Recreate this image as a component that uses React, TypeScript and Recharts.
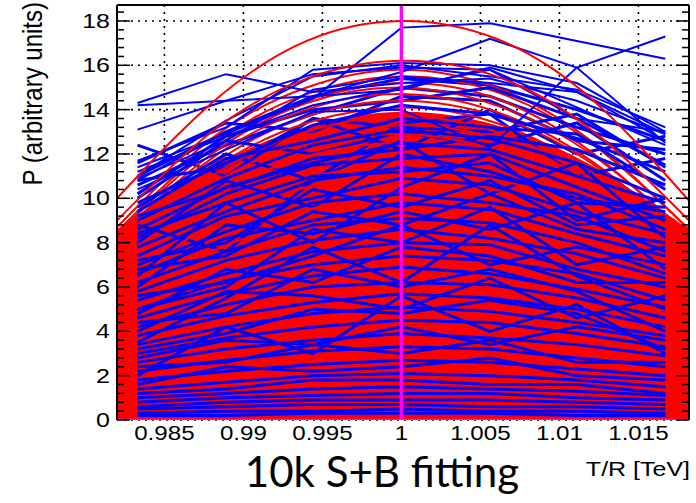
import React from "react";
import { ComposedChart, Line, Area, XAxis, YAxis, CartesianGrid } from "recharts";

const W = 696;
const H = 503;
const PLOT_L = 117;
const PLOT_R = 689;
const PLOT_T = 5;
const PLOT_B = 420;
const X_MIN = 0.982;
const X_MAX = 1.0182;
const Y_MAX = 18.72;

const FONT = '"Liberation Sans", Arial, Helvetica, sans-serif';

const X_TICKS = [0.985, 0.99, 0.995, 1, 1.005, 1.01, 1.015];
const Y_TICKS = [0, 2, 4, 6, 8, 10, 12, 14, 16, 18];
const X_MINOR = Array.from({ length: 37 }, (_, i) => Math.round((0.982 + i * 0.001) * 1000) / 1000);
const Y_MINOR = Array.from({ length: 47 }, (_, i) => Math.round(i * 4) / 10);

// T/R points of each toy scan (blue graphs)
const SCAN_X = [0.9833, 0.9889, 0.9944, 1.0, 1.0056, 1.0111, 1.0167];
// where the fitted curves are sampled (red)
const FIT_X = [0.982, 0.988, 0.994, 1.0, 1.006, 1.012, 1.0182];

// solid part of the red bundle
const FIT_BAND = [8.6, 11.4, 13.2, 13.9, 13.3, 11.5, 8.6];

const TOP_FITS = [
  [10.0, 14.3, 17.1, 18.0, 17.2, 14.5, 9.9],
  [9.0, 13.0, 15.4, 16.2, 15.5, 13.1, 9.0],
];

const FITS = [
  [8.7, 12.7, 15.0, 15.8, 15.0, 12.6, 8.6],
  [8.5, 12.4, 14.7, 15.5, 14.8, 12.5, 8.6],
  [8.4, 12.2, 14.4, 15.2, 14.5, 12.1, 8.3],
  [8.2, 12.0, 14.3, 15.0, 14.2, 12.0, 8.3],
  [8.1, 11.8, 14.0, 14.7, 13.9, 11.7, 8.0],
  [7.9, 11.5, 13.7, 14.4, 13.7, 11.6, 8.0],
  [7.8, 11.3, 13.4, 14.1, 13.4, 11.2, 7.7],
  [7.5, 11.0, 13.0, 13.7, 13.0, 10.9, 7.6],
  [7.3, 10.6, 12.6, 13.3, 12.7, 10.7, 7.3],
  [7.1, 10.3, 12.3, 12.9, 12.2, 10.3, 7.1],
  [6.9, 10.0, 11.9, 12.5, 11.9, 10.0, 6.9],
  [6.6, 9.6, 11.4, 12.0, 11.4, 9.6, 6.6],
  [6.3, 9.2, 10.9, 11.5, 10.9, 9.2, 6.3],
  [6.1, 8.8, 10.5, 11.0, 10.4, 8.8, 6.0],
  [5.8, 8.4, 10.0, 10.5, 10.0, 8.4, 5.8],
  [5.5, 8.0, 9.5, 10.0, 9.5, 8.0, 5.5],
  [5.2, 7.6, 9.0, 9.5, 9.0, 7.6, 5.2],
  [5.0, 7.2, 8.6, 9.0, 8.5, 7.2, 4.9],
  [4.7, 6.8, 8.1, 8.5, 8.1, 6.8, 4.7],
  [4.4, 6.4, 7.6, 8.0, 7.6, 6.4, 4.4],
  [4.1, 6.0, 7.1, 7.5, 7.1, 6.0, 4.1],
  [3.9, 5.6, 6.7, 7.0, 6.6, 5.6, 3.8],
  [3.5, 5.1, 6.1, 6.4, 6.1, 5.1, 3.5],
  [3.2, 4.6, 5.5, 5.8, 5.5, 4.6, 3.2],
  [2.9, 4.2, 4.9, 5.2, 4.9, 4.2, 2.9],
  [2.5, 3.7, 4.4, 4.6, 4.4, 3.7, 2.5],
  [2.2, 3.2, 3.8, 4.0, 3.8, 3.2, 2.2],
  [1.9, 2.7, 3.2, 3.4, 3.2, 2.7, 1.9],
  [1.5, 2.2, 2.7, 2.8, 2.7, 2.2, 1.5],
  [1.2, 1.8, 2.1, 2.2, 2.1, 1.8, 1.2],
  [0.9, 1.3, 1.5, 1.6, 1.5, 1.3, 0.9],
  [0.6, 0.8, 0.95, 1.0, 0.95, 0.8, 0.6],
];

const SCANS = [
  [11.0, 13.0, 14.6, 15.4, 15.1, 14.0, 12.6],
  [12.4, 11.0, 13.6, 12.2, 14.0, 12.0, 12.8],
  [10.6, 12.4, 13.8, 15.0, 14.6, 13.2, 12.0],
  [11.6, 13.4, 13.0, 14.6, 14.4, 12.6, 12.2],
  [10.2, 12.8, 14.0, 14.4, 15.0, 13.6, 11.5],
  [10.8, 11.4, 13.6, 13.2, 13.0, 13.8, 11.4],
  [9.6, 12.0, 10.8, 13.4, 13.8, 11.0, 11.8],
  [10.0, 12.6, 12.0, 13.0, 12.4, 13.4, 10.8],
  [9.8, 11.6, 13.3, 14.2, 13.8, 12.7, 11.2],
  [9.2, 10.4, 11.8, 12.2, 12.8, 12.2, 10.6],
  [9.4, 11.8, 12.6, 13.6, 13.2, 12.9, 10.4],
  [9.0, 10.9, 12.4, 13.1, 12.7, 11.6, 10.0],
  [8.8, 7.6, 10.8, 12.6, 10.2, 11.6, 8.2],
  [8.4, 9.8, 11.0, 11.2, 11.6, 9.8, 9.6],
  [8.6, 10.5, 11.6, 12.5, 12.2, 11.0, 9.8],
  [8.0, 10.8, 9.6, 12.0, 11.2, 10.0, 9.4],
  [8.2, 10.2, 11.5, 11.8, 12.0, 10.5, 9.0],
  [7.8, 9.4, 10.8, 11.4, 11.0, 10.2, 8.6],
  [7.4, 9.2, 10.0, 10.9, 10.6, 9.4, 8.4],
  [7.2, 8.0, 10.4, 9.6, 10.8, 8.8, 9.2],
  [6.5, 9.8, 8.0, 10.5, 12.0, 9.0, 10.0],
  [7.0, 8.5, 9.8, 10.2, 9.8, 9.2, 7.6],
  [6.8, 7.4, 9.4, 8.8, 10.2, 8.6, 8.0],
  [6.6, 8.2, 9.0, 9.8, 9.5, 8.4, 7.4],
  [6.0, 8.8, 8.4, 9.4, 8.6, 9.8, 6.8],
  [6.2, 7.6, 8.8, 9.1, 8.9, 8.0, 6.6],
  [5.0, 6.0, 8.6, 8.0, 9.6, 7.0, 7.8],
  [5.8, 7.2, 8.1, 8.6, 8.2, 7.5, 6.4],
  [5.6, 6.2, 7.4, 8.8, 7.0, 7.8, 7.0],
  [5.4, 6.6, 7.6, 8.0, 7.9, 6.8, 6.0],
  [4.8, 6.8, 6.2, 7.8, 7.4, 6.2, 6.2],
  [3.5, 5.5, 7.8, 6.2, 8.8, 6.5, 5.0],
  [5.0, 6.3, 7.0, 7.4, 7.2, 6.6, 5.4],
  [4.4, 4.8, 6.8, 6.0, 6.8, 5.8, 4.0],
  [4.6, 5.7, 6.5, 6.9, 6.6, 5.9, 5.1],
  [4.0, 5.8, 5.6, 5.0, 6.4, 4.6, 5.6],
  [4.2, 5.2, 6.0, 6.2, 6.1, 5.5, 4.6],
  [3.8, 4.7, 5.3, 5.7, 5.5, 5.0, 4.2],
  [3.2, 3.9, 5.0, 4.8, 5.4, 4.8, 3.2],
  [2.0, 4.2, 3.0, 5.6, 4.0, 5.2, 3.0],
  [3.4, 4.2, 4.8, 5.1, 4.9, 4.4, 3.8],
  [2.8, 3.6, 3.4, 4.2, 3.4, 4.2, 3.6],
  [3.0, 3.7, 4.2, 4.5, 4.4, 3.9, 3.3],
  [2.6, 3.2, 3.6, 3.9, 3.7, 3.4, 2.9],
  [2.4, 2.6, 3.4, 3.0, 3.6, 2.6, 2.6],
  [2.2, 2.7, 3.1, 3.3, 3.2, 2.8, 2.4],
  [1.6, 2.4, 2.2, 2.4, 2.8, 2.0, 1.8],
  [1.8, 2.2, 2.5, 2.7, 2.6, 2.3, 2.0],
  [1.4, 1.7, 2.0, 2.1, 2.0, 1.8, 1.5],
  [1.2, 1.4, 1.8, 1.8, 1.6, 1.6, 1.2],
  [1.0, 1.2, 1.4, 1.5, 1.4, 1.3, 1.1],
  [0.8, 1.0, 1.1, 1.2, 1.2, 1.0, 0.9],
  [0.6, 0.8, 0.9, 0.9, 0.9, 0.8, 0.7],
  [0.5, 0.6, 0.7, 0.7, 0.6, 0.6, 0.5],
  [0.3, 0.4, 0.4, 0.5, 0.4, 0.4, 0.3],
  [0.2, 0.2, 0.3, 0.3, 0.3, 0.2, 0.2],
];

// the few toys sticking out above the bundle
const SCAN_OUTLIERS = [
  [14.3, 15.6, 14.8, 15.2, 15.4, 14.4, 12.9],
  [14.2, 14.4, 14.6, 14.9, 15.9, 14.8, 12.6],
  [13.1, 14.4, 15.6, 15.9, 15.8, 14.1, 12.4],
  [11.7, 13.2, 15.8, 16.1, 16.0, 15.2, 13.0],
  [11.4, 12.9, 14.5, 17.7, 17.9, 17.1, 16.3],
  [10.8, 13.0, 14.6, 15.7, 17.2, 15.9, 12.5],
  [10.4, 12.2, 13.9, 14.0, 12.3, 15.9, 17.3],
  [11.0, 13.5, 15.5, 16.0, 15.5, 14.9, 13.2],
  [10.9, 12.6, 14.9, 15.5, 15.2, 14.8, 12.9],
  [11.2, 12.8, 14.2, 15.0, 15.8, 13.6, 13.0],
];

const pts = (xs: number[], ys: number[]) => xs.map((x, i) => ({ x, y: ys[i] }));
const isMajor = (v: number, list: number[]) => list.some((t) => Math.abs(t - v) < 1e-6);

function LeftTick(p: any) {
  const v = p.payload.value;
  const y = p.y;
  const major = isMajor(v, Y_TICKS);
  return (
    <g>
      <line x1={PLOT_L} x2={PLOT_L + (major ? 13 : 7)} y1={y} y2={y} stroke="#000" strokeWidth={1.5} />
      {major && (
        <text
          transform={`translate(${PLOT_L - 7},${y + 7}) scale(1.25,1)`}
          textAnchor="end"
          fontSize={20}
          fontFamily={FONT}
          fill="#000"
        >
          {v}
        </text>
      )}
    </g>
  );
}

function RightTick(p: any) {
  const v = p.payload.value;
  const major = isMajor(v, Y_TICKS);
  return <line x1={PLOT_R} x2={PLOT_R - (major ? 13 : 7)} y1={p.y} y2={p.y} stroke="#000" strokeWidth={1.5} />;
}

function TopTick(p: any) {
  const v = p.payload.value;
  const major = isMajor(v, X_TICKS);
  return <line x1={p.x} x2={p.x} y1={PLOT_T} y2={PLOT_T + (major ? 12 : 6)} stroke="#000" strokeWidth={1.5} />;
}

function BottomTick(p: any) {
  return (
    <text
      transform={`translate(${p.x},${PLOT_B + 20}) scale(1.15,1)`}
      textAnchor="middle"
      fontSize={21}
      fontFamily={FONT}
      fill="#000"
    >
      {String(p.payload.value)}
    </text>
  );
}

const common = { dot: false, activeDot: false, isAnimationActive: false, legendType: "none" as const, dataKey: "y" };

export default function App() {
  // toys were drawn one after another: scan, then its fit
  const series: React.ReactNode[] = [];
  const n = Math.max(FITS.length, SCANS.length);
  for (let i = 0; i < n; i++) {
    if (SCANS[i]) {
      series.push(
        <Line key={`s${i}`} {...common} data={pts(SCAN_X, SCANS[i])} type="linear" stroke="#0000ff" strokeWidth={3} />
      );
    }
    if (FITS[i]) {
      series.push(
        <Line key={`f${i}`} {...common} data={pts(FIT_X, FITS[i])} type="natural" stroke="#ff0000" strokeWidth={2} />
      );
    }
  }

  return (
    <div style={{ position: "absolute", left: 0, top: 0, width: W, height: H, background: "#fff" }}>
      <ComposedChart width={W} height={H} margin={{ top: PLOT_T - 1, right: W - PLOT_R - 1, bottom: H - PLOT_B - 40, left: PLOT_L - 100 }}>
        <CartesianGrid
          horizontalValues={Y_TICKS}
          verticalValues={X_TICKS}
          stroke="#000"
          strokeWidth={1.6}
          strokeDasharray="2 5"
        />
        <XAxis
          dataKey="x"
          type="number"
          domain={[X_MIN, X_MAX]}
          allowDataOverflow
          ticks={X_TICKS}
          interval={0}
          tickLine={false}
          axisLine={false}
          tick={BottomTick}
          height={40}
        />
        <XAxis
          xAxisId="top"
          orientation="top"
          type="number"
          domain={[X_MIN, X_MAX]}
          allowDataOverflow
          ticks={X_MINOR}
          interval={0}
          tickLine={false}
          axisLine={{ stroke: "#000", strokeWidth: 2 }}
          tick={TopTick}
          height={1}
        />
        <YAxis
          type="number"
          domain={[0, Y_MAX]}
          allowDataOverflow
          ticks={Y_MINOR}
          interval={0}
          tickLine={false}
          axisLine={{ stroke: "#000", strokeWidth: 2 }}
          tick={LeftTick}
          width={100}
        />
        <YAxis
          yAxisId="right"
          orientation="right"
          type="number"
          domain={[0, Y_MAX]}
          allowDataOverflow
          ticks={Y_MINOR}
          interval={0}
          tickLine={false}
          axisLine={{ stroke: "#000", strokeWidth: 2 }}
          tick={RightTick}
          width={1}
        />

        <Area
          data={pts(FIT_X, FIT_BAND)}
          dataKey="y"
          type="natural"
          stroke="none"
          fill="#ff0000"
          fillOpacity={1}
          isAnimationActive={false}
          activeDot={false}
          legendType="none"
        />
        <Line {...common} data={pts([X_MIN, X_MAX], [0, 0])} type="linear" stroke="#ff00ff" strokeWidth={2.5} />
        {series}
        {SCAN_OUTLIERS.map((s, i) => (
          <Line key={`o${i}`} {...common} data={pts(SCAN_X, s)} type="linear" stroke="#0000ff" strokeWidth={2} />
        ))}
        {TOP_FITS.map((f, i) => (
          <Line key={`t${i}`} {...common} data={pts(FIT_X, f)} type="natural" stroke="#ff0000" strokeWidth={2} />
        ))}
        <Line {...common} data={pts([1, 1], [0, Y_MAX])} type="linear" stroke="#ff00ff" strokeWidth={3.5} />
      </ComposedChart>

      <svg width={W} height={H} style={{ position: "absolute", left: 0, top: 0, pointerEvents: "none" }}>
        <text
          transform="translate(42,2) scale(1.15,1) rotate(-90)"
          textAnchor="end"
          fontSize={24}
          fontFamily={FONT}
          fill="#000"
        >
          P (arbitrary units)
        </text>
        <text x={382} y={487} textAnchor="middle" fontSize={42} fontFamily="Lato, 'Open Sans', sans-serif" fill="#000">
          10k S+B fitting
        </text>
        <text transform="translate(690,476) scale(1.25,1)" textAnchor="end" fontSize={20} fontFamily={FONT} fill="#000">
          T/R [TeV]
        </text>
      </svg>
    </div>
  );
}
